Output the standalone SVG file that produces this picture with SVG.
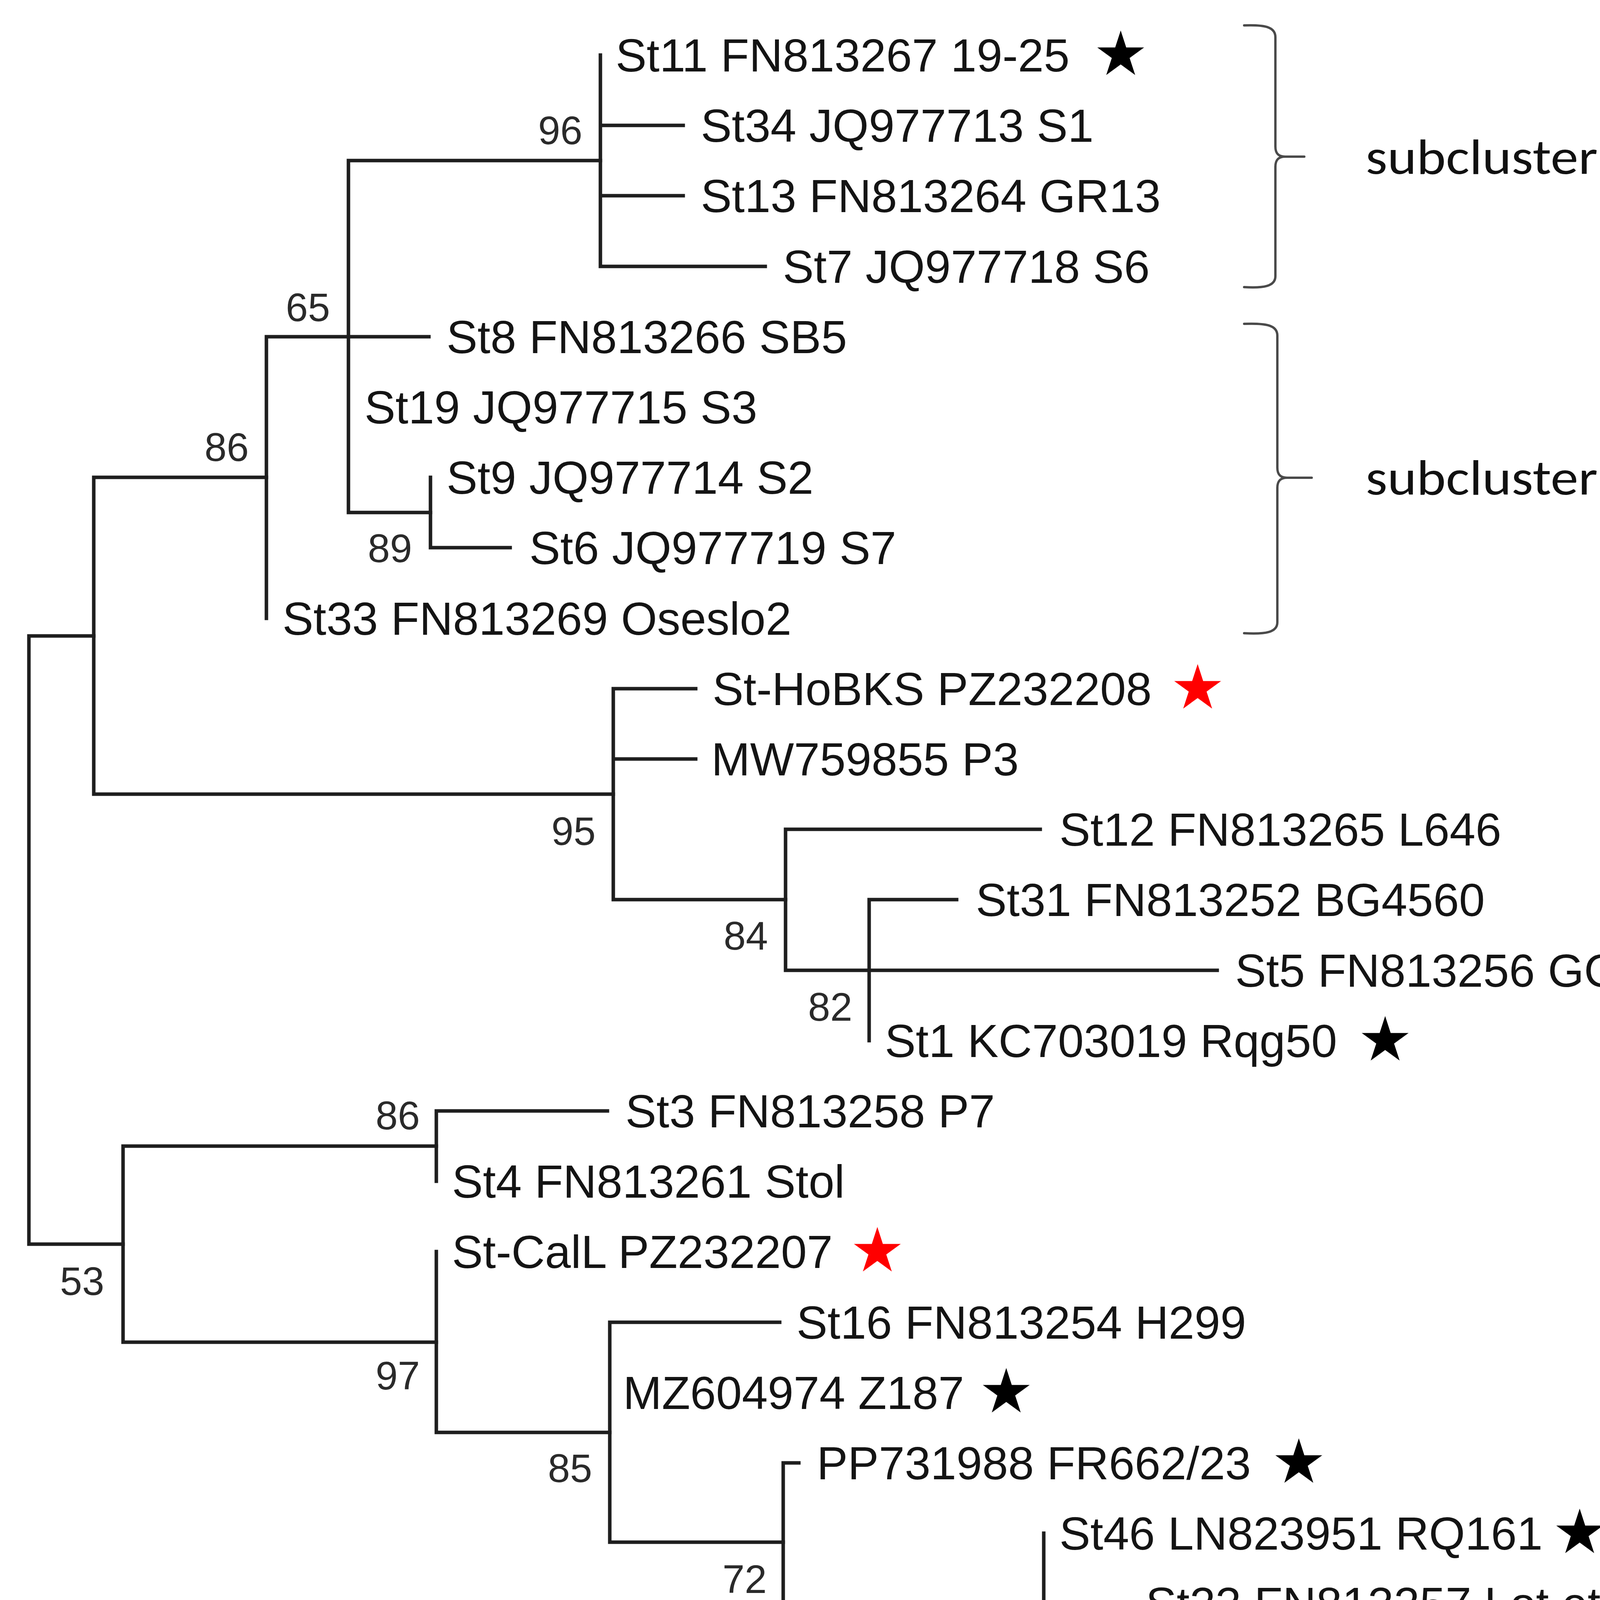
<svg xmlns="http://www.w3.org/2000/svg" xmlns:xlink="http://www.w3.org/1999/xlink" width="6226" height="5019" viewBox="0 0 6226 5019">
<style>
.br{fill:none;stroke:#1e1e1e;stroke-width:9;stroke-linecap:square}
.leaf{font-family:"Liberation Sans",Arial,sans-serif;font-size:119px;fill:#141414}
.bs{font-family:"Liberation Sans",Arial,sans-serif;font-size:102px;fill:#2a2a2a;text-anchor:end}
.brace{fill:none;stroke:#4a4a4a;stroke-width:6;stroke-linecap:round;stroke-linejoin:round}
.sub{font-family:Carlito,Lato,"Open Sans",sans-serif;font-size:128px;fill:#111}
.blk{fill:#000}
.red{fill:#ff0000}
</style>
<defs>
<polygon id="star" points="0,-63 14.11,-19.42 59.92,-19.47 22.83,7.42 37.03,50.97 0,24 -37.03,50.97 -22.83,7.42 -59.92,-19.47 -14.11,-19.42"/>
</defs>
<rect width="6226" height="5019" fill="#ffffff"/>
<g id="connectors" class="br">
<path d="M74 1628V3185M74 1628H240M74 3185H315"/>
<path d="M240 1222V2033M240 1222H682M240 2033H1570"/>
<path d="M682 862V1583M682 862H1098"/>
<path d="M892 411V1312M892 411H1537M892 1312H1102"/>
<path d="M1537 141V682M1537 321H1749M1537 501H1749M1537 682H1959"/>
<path d="M1102 1222V1402M1102 1402H1306"/>
<path d="M1570 1763V2303M1570 1763H1781M1570 1943H1781M1570 2303H2011"/>
<path d="M2011 2123V2484M2011 2123H2663M2011 2484H3116"/>
<path d="M2225 2303V2664M2225 2303H2449"/>
<path d="M315 2934V3436M315 2934H1117M315 3436H1117"/>
<path d="M1117 2844V3024M1117 2844H1555"/>
<path d="M1117 3204V3667M1117 3667H1561"/>
<path d="M1561 3385V3948M1561 3385H1996M1561 3948H2005"/>
<path d="M2005 3745V4151M2005 3745H2045M2005 4151H2672"/>
<path d="M2672 3925V4376M2672 4105H2893M2672 4376H2893"/>
<path d="M2893 4286V4466M2893 4466H3116"/>
</g>
<g id="bootstrap">
<text class="bs" x="1491" y="369">96</text>
<text class="bs" x="845" y="822">65</text>
<text class="bs" x="637" y="1180">86</text>
<text class="bs" x="1055" y="1439">89</text>
<text class="bs" x="1525" y="2163">95</text>
<text class="bs" x="1966" y="2431">84</text>
<text class="bs" x="2182" y="2613">82</text>
<text class="bs" x="1075" y="2891">86</text>
<text class="bs" x="267" y="3315">53</text>
<text class="bs" x="1075" y="3557">97</text>
<text class="bs" x="1516" y="3794">85</text>
<text class="bs" x="1963" y="4078">72</text>
<text class="bs" x="2630" y="4284">85</text>
<text class="bs" x="2851" y="4502">60</text>
</g>
<g id="leaf-St11"><text class="leaf" x="1576" y="183">St11 FN813267 19-25</text><use xlink:href="#star" href="#star" class="blk" x="2869" y="141"/></g>
<g id="leaf-St34"><text class="leaf" x="1794" y="363">St34 JQ977713 S1</text></g>
<g id="leaf-St13"><text class="leaf" x="1794" y="543">St13 FN813264 GR13</text></g>
<g id="leaf-St7"><text class="leaf" x="2004" y="724">St7 JQ977718 S6</text></g>
<g id="leaf-St8"><text class="leaf" x="1143" y="904">St8 FN813266 SB5</text></g>
<g id="leaf-St19"><text class="leaf" x="933" y="1084">St19 JQ977715 S3</text></g>
<g id="leaf-St9"><text class="leaf" x="1143" y="1264">St9 JQ977714 S2</text></g>
<g id="leaf-St6"><text class="leaf" x="1355" y="1444">St6 JQ977719 S7</text></g>
<g id="leaf-St33"><text class="leaf" x="723" y="1625">St33 FN813269 Oseslo2</text></g>
<g id="leaf-StHoBKS"><text class="leaf" x="1824" y="1805">St-HoBKS PZ232208</text><use xlink:href="#star" href="#star" class="red" x="3066" y="1763"/></g>
<g id="leaf-MW759855"><text class="leaf" x="1821" y="1985">MW759855 P3</text></g>
<g id="leaf-St12"><text class="leaf" x="2712" y="2165">St12 FN813265 L646</text></g>
<g id="leaf-St31"><text class="leaf" x="2498" y="2345">St31 FN813252 BG4560</text></g>
<g id="leaf-St5"><text class="leaf" x="3162" y="2526">St5 FN813256 GGY</text><use xlink:href="#star" href="#star" class="blk" x="4311" y="2484"/></g>
<g id="leaf-St1"><text class="leaf" x="2265" y="2706">St1 KC703019 Rqg50</text><use xlink:href="#star" href="#star" class="blk" x="3546" y="2664"/></g>
<g id="leaf-St3"><text class="leaf" x="1601" y="2886">St3 FN813258 P7</text></g>
<g id="leaf-St4"><text class="leaf" x="1157" y="3066">St4 FN813261 Stol</text></g>
<g id="leaf-StCalL"><text class="leaf" x="1157" y="3246">St-CalL PZ232207</text><use xlink:href="#star" href="#star" class="red" x="2246" y="3204"/></g>
<g id="leaf-St16"><text class="leaf" x="2039" y="3427">St16 FN813254 H299</text></g>
<g id="leaf-MZ604974"><text class="leaf" x="1595" y="3607">MZ604974 Z187</text><use xlink:href="#star" href="#star" class="blk" x="2576" y="3565"/></g>
<g id="leaf-PP731988"><text class="leaf" x="2091" y="3787">PP731988 FR662/23</text><use xlink:href="#star" href="#star" class="blk" x="3325" y="3745"/></g>
<g id="leaf-St46"><text class="leaf" x="2712" y="3967">St46 LN823951 RQ161</text><use xlink:href="#star" href="#star" class="blk" x="4044" y="3925"/></g>
<g id="leaf-St23"><text class="leaf" x="2933" y="4147">St23 FN813257 Lot et Garonne</text></g>
<g id="leaf-St10"><text class="leaf" x="2933" y="4328">St10 FN813259 PO</text><use xlink:href="#star" href="#star" class="blk" x="4090" y="4286"/></g>
<g id="leaf-St14"><text class="leaf" x="3162" y="4508">St14 FN813260 Stolbur C</text></g>
<g id="subcluster-a1">
<path class="brace" d="M3185 65C3235 63 3265 68 3265 95L3265 375C3265 392 3272 401 3290 401L3339 401M3290 401C3272 401 3265 410 3265 427L3265 707C3265 733 3235 738 3185 735"/>
<text class="sub" x="3496" y="445" textLength="1158" lengthAdjust="spacingAndGlyphs">subcluster <tspan font-style="italic">stamp</tspan> a1</text>
</g>
<g id="subcluster-a2">
<path class="brace" d="M3185 829C3240 827 3270 832 3270 859L3270 1197C3270 1214 3277 1223 3295 1223L3358 1223M3295 1223C3277 1223 3270 1232 3270 1249L3270 1593C3270 1619 3240 1624 3185 1621"/>
<text class="sub" x="3496" y="1266" textLength="1158" lengthAdjust="spacingAndGlyphs">subcluster <tspan font-style="italic">stamp</tspan> a2</text>
</g>
<g id="subcluster-b2">
<path class="brace" d="M4681 1697C4736 1695 4766 1700 4766 1727L4766 2192C4766 2209 4773 2218 4791 2218L4852 2218M4791 2218C4773 2218 4766 2227 4766 2244L4766 2711C4766 2737 4736 2742 4681 2739"/>
<text class="sub" x="5025" y="2259" textLength="1167" lengthAdjust="spacingAndGlyphs">subcluster <tspan font-style="italic">stamp</tspan> b2</text>
</g>
<g id="subcluster-b3">
<path class="brace" d="M4681 2806C4734 2804 4764 2809 4764 2834L4764 2927C4764 2943 4771 2951 4789 2951L4849 2951M4789 2951C4771 2951 4764 2959 4764 2975L4764 3069C4764 3095 4734 3100 4681 3097"/>
<text class="sub" x="5025" y="2994" textLength="1167" lengthAdjust="spacingAndGlyphs">subcluster <tspan font-style="italic">stamp</tspan> b3</text>
</g>
<g id="subcluster-b1">
<path class="brace" d="M4685 3190C4740 3188 4770 3193 4770 3220L4770 3832C4770 3849 4777 3858 4795 3858L4857 3858M4795 3858C4777 3858 4770 3867 4770 3884L4770 4493C4770 4519 4740 4524 4685 4521"/>
<text class="sub" x="5025" y="3901" textLength="1167" lengthAdjust="spacingAndGlyphs">subcluster <tspan font-style="italic">stamp</tspan> b1</text>
</g>
<g id="scale-bar">
<path d="M226 4728H1275" fill="none" stroke="#1e1e1e" stroke-width="10"/>
<path d="M226 4696V4758M1275 4696V4758" fill="none" stroke="#1e1e1e" stroke-width="6"/>
<text x="737" y="4960" font-family="Liberation Sans,Arial,sans-serif" font-size="102" fill="#222" text-anchor="middle" textLength="178" lengthAdjust="spacingAndGlyphs">0.01</text>
</g>
</svg>
